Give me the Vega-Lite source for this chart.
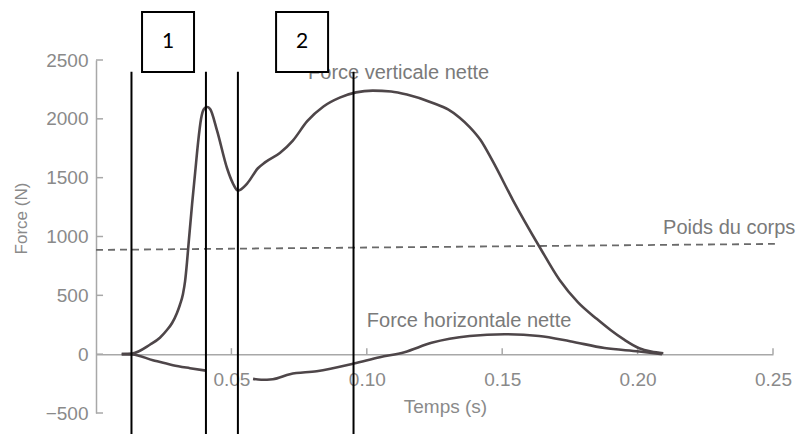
{
  "$schema": "https://vega.github.io/schema/vega-lite/v6.json",
  "width": 677,
  "height": 353,
  "autosize": {"type": "none"},
  "padding": {"left": 96, "top": 60, "right": 30, "bottom": 21},
  "background": "white",
  "config": {"view": {"stroke": null}, "font": "Liberation Sans"},
  "datasets": {
    "poids": [{"t": 0, "v": 886}, {"t": 0.2507, "v": 937}],
    "verticale": [
      {"t": 0.0095, "v": 0}, {"t": 0.0134, "v": 5}, {"t": 0.0199, "v": 80}, {"t": 0.0236, "v": 140},
      {"t": 0.0262, "v": 205}, {"t": 0.0281, "v": 265}, {"t": 0.0299, "v": 350}, {"t": 0.031, "v": 420},
      {"t": 0.0321, "v": 510}, {"t": 0.0329, "v": 620}, {"t": 0.0336, "v": 780}, {"t": 0.0343, "v": 970},
      {"t": 0.0355, "v": 1280}, {"t": 0.0366, "v": 1540}, {"t": 0.0377, "v": 1800}, {"t": 0.0388, "v": 2000},
      {"t": 0.0399, "v": 2085}, {"t": 0.041, "v": 2100}, {"t": 0.0421, "v": 2085}, {"t": 0.0447, "v": 1900},
      {"t": 0.0484, "v": 1580}, {"t": 0.0506, "v": 1450}, {"t": 0.0524, "v": 1390}, {"t": 0.0558, "v": 1450},
      {"t": 0.0598, "v": 1580}, {"t": 0.0624, "v": 1630}, {"t": 0.0679, "v": 1710}, {"t": 0.0727, "v": 1815},
      {"t": 0.078, "v": 1980}, {"t": 0.084, "v": 2105}, {"t": 0.09, "v": 2180}, {"t": 0.096, "v": 2225},
      {"t": 0.1022, "v": 2240}, {"t": 0.109, "v": 2232}, {"t": 0.1148, "v": 2206}, {"t": 0.1244, "v": 2135},
      {"t": 0.13, "v": 2080}, {"t": 0.1343, "v": 2010}, {"t": 0.138, "v": 1930}, {"t": 0.142, "v": 1820},
      {"t": 0.1465, "v": 1640}, {"t": 0.1539, "v": 1312},
      {"t": 0.1638, "v": 911}, {"t": 0.1712, "v": 630}, {"t": 0.178, "v": 440}, {"t": 0.1849, "v": 300},
      {"t": 0.19, "v": 205}, {"t": 0.1949, "v": 125}, {"t": 0.2006, "v": 50}, {"t": 0.205, "v": 22},
      {"t": 0.2095, "v": 8}
    ],
    "horizontale": [
      {"seg": 1, "t": 0.0095, "v": 0}, {"seg": 1, "t": 0.0134, "v": -3}, {"seg": 1, "t": 0.021, "v": -51},
      {"seg": 1, "t": 0.0284, "v": -94}, {"seg": 1, "t": 0.0347, "v": -119}, {"seg": 1, "t": 0.0406, "v": -140},
      {"seg": 2, "t": 0.058, "v": -210}, {"seg": 2, "t": 0.061, "v": -218}, {"seg": 2, "t": 0.0653, "v": -213},
      {"seg": 2, "t": 0.0716, "v": -170}, {"seg": 2, "t": 0.0815, "v": -145}, {"seg": 2, "t": 0.0952, "v": -80},
      {"seg": 2, "t": 0.1048, "v": -26}, {"seg": 2, "t": 0.1139, "v": 17}, {"seg": 2, "t": 0.1239, "v": 96},
      {"seg": 2, "t": 0.138, "v": 154}, {"seg": 2, "t": 0.1509, "v": 169}, {"seg": 2, "t": 0.1636, "v": 154},
      {"seg": 2, "t": 0.175, "v": 110}, {"seg": 2, "t": 0.1878, "v": 52}, {"seg": 2, "t": 0.2006, "v": 23},
      {"seg": 2, "t": 0.209, "v": 0}
    ],
    "traits": [{"t": 0.0131}, {"t": 0.0406}, {"t": 0.0524}, {"t": 0.0951}],
    "xticks": [{"t": 0.05}, {"t": 0.1}, {"t": 0.15}, {"t": 0.2}, {"t": 0.25}],
    "yticks": [{"v": -500}, {"v": 0}, {"v": 500}, {"v": 1000}, {"v": 1500}, {"v": 2000}, {"v": 2500}],
    "textes": [
      {"label": "Force verticale nette", "t": 0.0783, "v": 2390},
      {"label": "Poids du corps", "t": 0.2094, "v": 1071},
      {"label": "Force horizontale nette", "t": 0.1, "v": 286}
    ],
    "boites": [
      {"n": "1", "t1": 0.017, "t2": 0.0362, "tm": 0.0266, "v1": 2908, "v2": 2398, "vm": 2653},
      {"n": "2", "t1": 0.0665, "t2": 0.0857, "tm": 0.0761, "v1": 2908, "v2": 2398, "vm": 2653}
    ]
  },
  "layer": [
    {
      "data": {"name": "poids"},
      "mark": {"type": "line", "color": "#6a6a6a", "strokeWidth": 1.8, "strokeDash": [7, 5]},
      "encoding": {
        "x": {
          "field": "t", "type": "quantitative",
          "scale": {"domain": [0, 0.25], "nice": false, "zero": false},
          "axis": {
            "title": "Temps (s)", "values": [0.05, 0.1, 0.15, 0.2, 0.25], "format": ".2f",
            "offset": -58.83, "ticks": false, "labelPadding": 16, "grid": false,
            "domainColor": "#a8a8a8", "domainWidth": 1.5,
            "labelColor": "#8a8a8a", "labelFontSize": 19, "labelFont": "Liberation Sans",
            "labelFlush": false, "labelOverlap": false,
            "titleColor": "#8a8a8a", "titleFontSize": 19, "titleFontWeight": "normal", "titleFont": "Liberation Sans",
            "titleX": 349, "titleY": 52, "titleBaseline": "middle", "titleAlign": "center"
          }
        },
        "y": {
          "field": "v", "type": "quantitative",
          "scale": {"domain": [-500, 2500], "nice": false, "zero": false},
          "axis": {
            "title": "Force (N)", "values": [-500, 0, 500, 1000, 1500, 2000, 2500], "format": "d",
            "ticks": false, "labelPadding": 8, "grid": false,
            "domainColor": "#a8a8a8", "domainWidth": 1.5,
            "labelColor": "#8a8a8a", "labelFontSize": 19, "labelFont": "Liberation Sans",
            "labelFlush": false, "labelOverlap": false,
            "titleColor": "#8a8a8a", "titleFontSize": 17, "titleFontWeight": "normal", "titleFont": "Liberation Sans",
            "titleX": -75, "titleY": 158, "titleAngle": -90, "titleBaseline": "middle", "titleAlign": "center"
          }
        }
      }
    },
    {
      "data": {"name": "xticks"},
      "mark": {"type": "rule", "color": "#a8a8a8", "strokeWidth": 1.5},
      "encoding": {
        "x": {"field": "t", "type": "quantitative"},
        "y": {"datum": 0},
        "y2": {"datum": 51}
      }
    },
    {
      "data": {"name": "yticks"},
      "mark": {"type": "rule", "color": "#a8a8a8", "strokeWidth": 1.5},
      "encoding": {
        "y": {"field": "v", "type": "quantitative"},
        "x": {"datum": 0},
        "x2": {"datum": 0.0026}
      }
    },
    {
      "data": {"name": "verticale"},
      "mark": {"type": "line", "color": "#4e4649", "strokeWidth": 2.6, "interpolate": "monotone"},
      "encoding": {
        "x": {"field": "t", "type": "quantitative"},
        "y": {"field": "v", "type": "quantitative"}
      }
    },
    {
      "data": {"name": "horizontale"},
      "mark": {"type": "line", "color": "#4e4649", "strokeWidth": 2.6, "interpolate": "monotone"},
      "encoding": {
        "x": {"field": "t", "type": "quantitative"},
        "y": {"field": "v", "type": "quantitative"},
        "detail": {"field": "seg", "type": "nominal"}
      }
    },
    {
      "data": {"name": "textes"},
      "mark": {"type": "text", "align": "left", "baseline": "middle", "fontSize": 20, "color": "#7a7a7a", "font": "Liberation Sans"},
      "encoding": {
        "x": {"field": "t", "type": "quantitative"},
        "y": {"field": "v", "type": "quantitative"},
        "text": {"field": "label", "type": "nominal"}
      }
    },
    {
      "data": {"name": "traits"},
      "mark": {"type": "rule", "color": "black", "strokeWidth": 2},
      "encoding": {
        "x": {"field": "t", "type": "quantitative"},
        "y": {"datum": 2400},
        "y2": {"datum": -700}
      }
    },
    {
      "data": {"name": "boites"},
      "mark": {"type": "rect", "fill": "white", "stroke": "black", "strokeWidth": 2},
      "encoding": {
        "x": {"field": "t1", "type": "quantitative"},
        "x2": {"field": "t2"},
        "y": {"field": "v1", "type": "quantitative"},
        "y2": {"field": "v2"}
      }
    },
    {
      "data": {"name": "boites"},
      "mark": {"type": "text", "align": "center", "baseline": "middle", "fontSize": 21, "color": "black", "font": "Lato"},
      "encoding": {
        "x": {"field": "tm", "type": "quantitative"},
        "y": {"field": "vm", "type": "quantitative"},
        "text": {"field": "n", "type": "nominal"}
      }
    }
  ]
}
